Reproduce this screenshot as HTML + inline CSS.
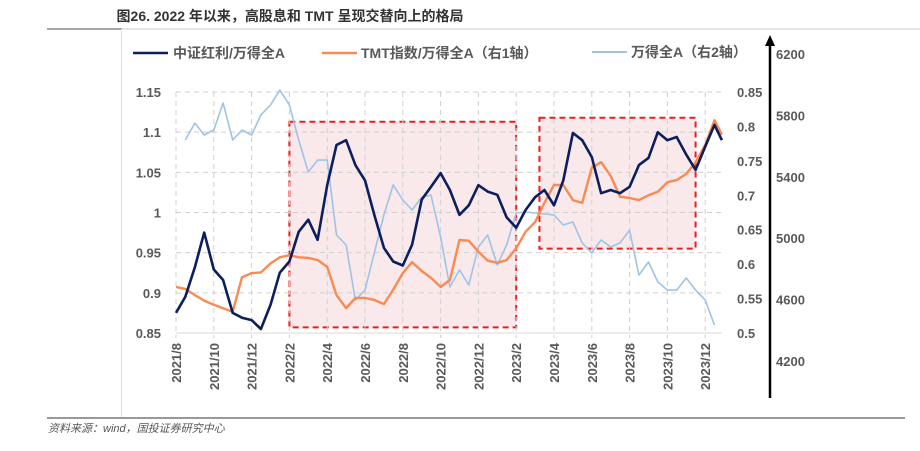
<!DOCTYPE html>
<html><head><meta charset="utf-8"><style>
body{margin:0;background:#fff;}
svg text{font-family:"Liberation Sans","Noto Sans CJK SC",sans-serif;}
</style></head><body>
<svg width="920" height="446" viewBox="0 0 920 446" xmlns="http://www.w3.org/2000/svg">
<text x="290" y="21" text-anchor="middle" font-size="14" font-weight="bold" fill="#333">图26. 2022 年以来，高股息和 TMT 呈现交替向上的格局</text>
<line x1="47" y1="29" x2="122" y2="29" stroke="#888" stroke-width="1.5"/>
<line x1="122" y1="29" x2="920" y2="29" stroke="#ccc" stroke-width="1"/>
<line x1="121.5" y1="29" x2="121.5" y2="418" stroke="#e0e0e0" stroke-width="1"/>
<line x1="47" y1="418" x2="905" y2="418" stroke="#999" stroke-width="2"/>
<text x="48" y="432" font-size="11" font-style="italic" fill="#555">资料来源：wind，国投证券研究中心</text>
<g id="legend">
<line x1="133" y1="53" x2="168" y2="53" stroke="#0c1f5c" stroke-width="2.5"/>
<text x="173" y="58" font-size="14" font-weight="bold" fill="#595959">中证红利/万得全A</text>
<line x1="322" y1="53" x2="357" y2="53" stroke="#f98a54" stroke-width="2.5"/>
<text x="361" y="58" font-size="14" font-weight="bold" fill="#595959">TMT指数/万得全A（右1轴）</text>
<line x1="592" y1="52" x2="627" y2="52" stroke="#9fc3e6" stroke-width="2"/>
<text x="631" y="57" font-size="14" font-weight="bold" fill="#595959">万得全A（右2轴）</text>
</g>
<g id="boxes"></g>
<g id="grid"></g>
<g id="axes"></g>
<g id="series"></g>
<line x1="770" y1="398" x2="770" y2="44" stroke="#000" stroke-width="2.5"/>
<polygon points="770,35 765,46 775,46" fill="#000"/>
</svg>
<script>
const dates=["2021-08-01","2021-08-16","2021-09-01","2021-09-16","2021-10-01","2021-10-16","2021-11-01","2021-11-16","2021-12-01","2021-12-16","2022-01-01","2022-01-16","2022-02-01","2022-02-16","2022-03-01","2022-03-16","2022-04-01","2022-04-16","2022-05-01","2022-05-16","2022-06-01","2022-06-16","2022-07-01","2022-07-16","2022-08-01","2022-08-16","2022-09-01","2022-09-16","2022-10-01","2022-10-16","2022-11-01","2022-11-16","2022-12-01","2022-12-16","2023-01-01","2023-01-16","2023-02-01","2023-02-16","2023-03-01","2023-03-16","2023-04-01","2023-04-16","2023-05-01","2023-05-16","2023-06-01","2023-06-16","2023-07-01","2023-07-16","2023-08-01","2023-08-16","2023-09-01","2023-09-16","2023-10-01","2023-10-16","2023-11-01","2023-11-16","2023-12-01","2023-12-16","2023-12-28"];
const dividendRatio=[0.875,0.895,0.932,0.975,0.929,0.916,0.875,0.869,0.866,0.855,0.885,0.925,0.939,0.976,0.991,0.966,1.034,1.084,1.090,1.059,1.040,0.997,0.956,0.939,0.934,0.960,1.016,1.032,1.049,1.028,0.997,1.009,1.034,1.026,1.022,0.994,0.981,1.003,1.019,1.028,1.009,1.040,1.099,1.090,1.069,1.024,1.028,1.024,1.032,1.059,1.068,1.100,1.090,1.094,1.072,1.053,1.082,1.109,1.090];
const tmtRatio=[0.567,0.564,0.555,0.547,0.541,0.536,0.531,0.581,0.587,0.588,0.601,0.610,0.613,0.610,0.609,0.606,0.596,0.555,0.536,0.551,0.551,0.548,0.542,0.563,0.587,0.603,0.590,0.580,0.567,0.577,0.635,0.634,0.618,0.605,0.602,0.606,0.623,0.647,0.661,0.689,0.715,0.715,0.693,0.689,0.740,0.748,0.728,0.698,0.696,0.693,0.700,0.705,0.719,0.722,0.731,0.748,0.773,0.809,0.788];
const windA=[null,5640,5750,5672,5705,5881,5640,5705,5672,5803,5868,5965,5868,5640,5431,5509,5509,5021,4956,4597,4662,4904,5151,5347,5249,5184,5268,5281,5008,4682,4793,4695,4943,5021,4825,4956,5164,5171,5164,5158,5151,5086,5106,4969,4904,4988,4943,4969,5053,4760,4845,4715,4662,4662,4741,4662,4597,4434,null];
const xTickLabels=["2021/8","2021/10","2021/12","2022/2","2022/4","2022/6","2022/8","2022/10","2022/12","2023/2","2023/4","2023/6","2023/8","2023/10","2023/12"];
const leftTicks=[1.15,1.1,1.05,1,0.95,0.9,0.85];
const right1Ticks=[0.85,0.8,0.75,0.7,0.65,0.6,0.55,0.5];
const right2Ticks=[6200,5800,5400,5000,4600,4200];
const box1=["2022-02-01","2023-02-01",1.113,0.857];
const box2=["2023-03-08","2023-11-16",1.118,0.955];

const NS="http://www.w3.org/2000/svg";
const X0=176, PXM=18.9, YT=92, YB=333;
function monthOf(s){const p=s.split(/[-\/]/).map(Number);const d=p[2]||1;return (p[0]-2021)*12+(p[1]-8)+(d-1)/30.5;}
function xs(s){return X0+monthOf(s)*PXM;}
function yL(v){return YT+(1.15-v)/0.30*(YB-YT);}
function yR1(v){return YT+(0.85-v)/0.35*(YB-YT);}
function yR2(v){return 54+(6200-v)/2000*(361-54);}
function mk(tag,attrs,parent){const e=document.createElementNS(NS,tag);for(const k in attrs)e.setAttribute(k,attrs[k]);document.getElementById(parent).appendChild(e);return e;}

// boxes
[box1,box2].forEach((b,i)=>{
  const x1=xs(b[0]),x2=xs(b[1]),y1=yL(b[2]),y2=yL(b[3]);
  const r=mk('rect',{x:x1,y:y1,width:x2-x1,height:y2-y1,fill:'#f9e9ea',stroke:'#ee1c1c','stroke-width':2,'stroke-dasharray':'6,4'},'boxes');
  
  
});
// grid
leftTicks.forEach(v=>{
  const l=mk('line',{x1:X0,x2:722,y1:yL(v),y2:yL(v),stroke:'#d0d0d0','stroke-width':1,'stroke-dasharray':'5,4'},'grid');
  
  
  const t=mk('text',{x:161,y:yL(v)+5,'text-anchor':'end','font-size':13,'font-weight':'bold',fill:'#595959'},'axes');
  t.textContent=String(v);
  
  
});
xTickLabels.forEach(s=>{
  const x=xs(s);
  const l=mk('line',{x1:x,x2:x,y1:YT,y2:YB+5,stroke:'#d0d0d0','stroke-width':1,'stroke-dasharray':'5,4'},'grid');
  
  
  const t=mk('text',{x:0,y:0,'text-anchor':'end','font-size':13,'font-weight':'bold',fill:'#595959',transform:`translate(${x+5},343) rotate(-90)`},'axes');
  t.textContent=s;
  
  
});
const bl=mk('line',{x1:X0,x2:722,y1:YB,y2:YB,stroke:'#d9d9d9','stroke-width':1},'grid');


right1Ticks.forEach(v=>{
  const t=mk('text',{x:737,y:yR1(v)+5,'font-size':13,'font-weight':'bold',fill:'#595959'},'axes');
  t.textContent=String(v);
  
  
});
right2Ticks.forEach(v=>{
  const t=mk('text',{x:776,y:yR2(v)+5,'font-size':13,'font-weight':'bold',fill:'#595959'},'axes');
  t.textContent=String(v);
  
  
});
function pathFor(vals,yf){let d='',pen=false;vals.forEach((v,i)=>{if(v===null){pen=false;return;}d+=(pen?'L':'M')+xs(dates[i]).toFixed(1)+','+yf(v).toFixed(1);pen=true;});return d;}
const pb=mk('path',{d:pathFor(windA,yR2),fill:'none',stroke:'#9fc3e6','stroke-width':1.6,'stroke-linejoin':'round'},'series');


const po=mk('path',{d:pathFor(tmtRatio,yR1),fill:'none',stroke:'#f98a54','stroke-width':2.4,'stroke-linejoin':'round'},'series');


const pn=mk('path',{d:pathFor(dividendRatio,yL),fill:'none',stroke:'#0c1f5c','stroke-width':2.6,'stroke-linejoin':'round'},'series');


</script>
</body></html>
